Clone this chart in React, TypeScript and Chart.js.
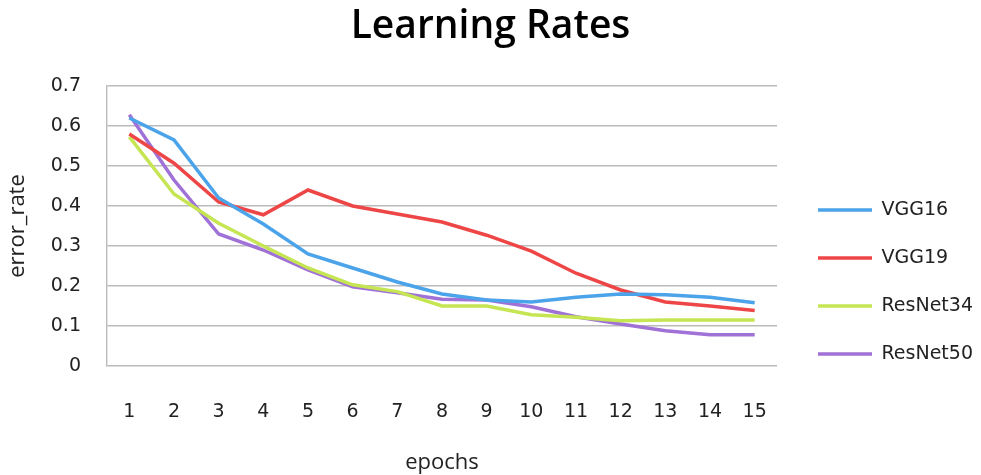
import React, { useEffect, useRef } from "react";
import { Chart, registerables } from "chart.js";

Chart.register(...registerables);

const epochs = ["1", "2", "3", "4", "5", "6", "7", "8", "9", "10", "11", "12", "13", "14", "15"];
const vgg16 = [0.62, 0.565, 0.42, 0.355, 0.28, 0.245, 0.21, 0.18, 0.165, 0.16, 0.172, 0.18, 0.178, 0.172, 0.158];
const vgg19 = [0.58, 0.507, 0.41, 0.378, 0.44, 0.4, 0.38, 0.36, 0.327, 0.287, 0.232, 0.19, 0.16, 0.15, 0.139];
const resnet34 = [0.573, 0.43, 0.357, 0.3, 0.245, 0.203, 0.186, 0.15, 0.15, 0.128, 0.122, 0.113, 0.115, 0.115, 0.115];
const resnet50 = [0.628, 0.465, 0.33, 0.29, 0.24, 0.198, 0.183, 0.167, 0.165, 0.148, 0.123, 0.105, 0.088, 0.078, 0.078];
const yTickLabels = ["0", "0.1", "0.2", "0.3", "0.4", "0.5", "0.6", "0.7"];
const seriesNames = ["VGG16", "VGG19", "ResNet34", "ResNet50"];
const seriesColors = ["#4ba3ea", "#ee4646", "#c6e552", "#a071d6"];

export default function App() {
  const ref = useRef<HTMLCanvasElement | null>(null);
  useEffect(() => {
    if (!ref.current) return;
    const values = [vgg16, vgg19, resnet34, resnet50];
    const chart = new Chart(ref.current, {
      type: "line",
      data: {
        labels: epochs,
        datasets: values.map((d, i) => ({
          label: seriesNames[i],
          data: d,
          borderColor: seriesColors[i],
          backgroundColor: seriesColors[i],
          borderWidth: 3.5,
          pointRadius: 0,
          pointStyle: "line",
          tension: 0,
          yAxisID: "y",
        })),
      },
      options: {
        responsive: false,
        animation: false,
        devicePixelRatio: 1,
        layout: { padding: 0 },
        plugins: {
          tooltip: { enabled: false },
          title: {
            display: true,
            text: "Learning Rates",
            color: "#000",
            font: { family: "Open Sans", size: 39, weight: 600 },
            padding: { top: 3.4, bottom: 35.8 },
          },
          legend: {
            position: "right",
            maxWidth: 192,
            title: { display: true, text: " ", font: { size: 12 }, padding: { top: 74.6, bottom: 0 } },
            labels: {
              usePointStyle: true,
              pointStyle: "line",
              pointStyleWidth: 54,
              color: "#222",
              font: { family: "DejaVu Sans", size: 19 },
              padding: 29,
            },
          },
        },
        scales: {
          x: {
            type: "category",
            offset: true,
            grid: { display: false, drawTicks: false },
            border: { display: false },
            ticks: { color: "#222", font: { family: "DejaVu Sans", size: 19 }, padding: 35, maxRotation: 0, autoSkip: false },
            title: {
              display: true,
              text: "epochs",
              color: "#222",
              font: { family: "Open Sans", size: 22 },
              padding: { top: 0, bottom: -1 },
            },
            afterFit: (s: any) => {
              s.height = 109;
            },
          },
          y: {
            type: "linear",
            position: "left",
            min: 0,
            max: 0.7,
            grid: { color: "#bbbbbb", lineWidth: 1.4, drawTicks: false },
            border: { display: true, color: "#bbbbbb", width: 1.4 },
            ticks: {
              stepSize: 0.1,
              color: "#222",
              font: { family: "DejaVu Sans", size: 19 },
              padding: 26,
              callback: (_v: any, i: number) => yTickLabels[i],
            },
            title: {
              display: true,
              text: "error_rate",
              color: "#222",
              font: { family: "Open Sans", size: 22 },
              padding: { top: 5, bottom: 0 },
            },
            afterFit: (s: any) => {
              s.width = 107;
            },
          },
          y2: {
            type: "linear",
            position: "right",
            display: true,
            grid: { display: false, drawTicks: false },
            border: { display: false },
            ticks: { display: false },
            afterFit: (s: any) => {
              s.width = 12;
            },
          },
        },
      },
    });
    return () => chart.destroy();
  }, []);
  return (
    <div style={{ position: "fixed", left: 0, top: 0, width: 981, height: 475, background: "#fff" }}>
      <canvas ref={ref} width={981} height={475} style={{ display: "block" }} />
    </div>
  );
}
